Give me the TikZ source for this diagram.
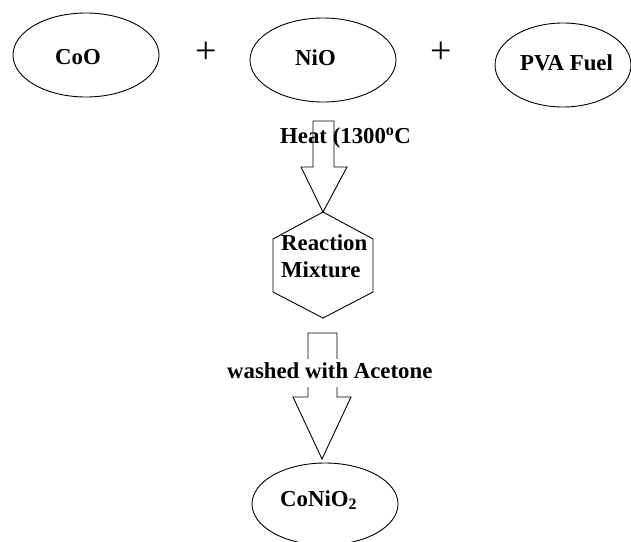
\documentclass[tikz,border=0pt]{standalone}
\usepackage{fontspec}
\setmainfont{Liberation Serif}
\usetikzlibrary{shapes.geometric}
\begin{document}
\begin{tikzpicture}[x=1pt,y=-1pt,
  lbl/.style={font=\fontsize{22.8}{27}\selectfont\bfseries,inner sep=0pt,anchor=base west},
  oval/.style={draw,ellipse,line width=0.9pt,minimum width=146pt,minimum height=84pt,inner sep=0pt},
  plussign/.style={font=\fontsize{38}{38}\selectfont\mdseries,inner sep=0pt},
  blockarrow/.style={draw,line width=0.9pt,fill=white}]
\useasboundingbox[fill=white] (0,0) rectangle (631,541);
% reactant ovals
\node[oval] (coo) at (86,55) {};
\node[oval] (nio) at (323,60) {};
\node[oval,minimum width=136pt,minimum height=84pt] (pva) at (563,65) {};
\node[lbl] (coot) at (55,64) {CoO};
\node[lbl] (niot) at (295,65) {NiO};
\node[lbl] (pvat) at (520,70) {PVA Fuel};
\node[plussign] (p1) at (206,53) {+};
\node[plussign] (p2) at (441,53) {+};
% heat arrow
\coordinate (a1tip) at (323,212);
\draw[blockarrow] (313,121) -- (334,121) -- (334,167) -- (347,167) -- (a1tip) -- (301,167) -- (313,167) -- cycle;
\node[lbl] (heat) at (280,143) {Heat (1300\textsuperscript{o}C};
% hexagon
\coordinate (h1) at (323,212);
\coordinate (h2) at (373,239);
\coordinate (h3) at (373,292);
\coordinate (h4) at (323,318);
\coordinate (h5) at (273,292);
\coordinate (h6) at (273,239);
\draw[line width=0.9pt] (h1) -- (h2) -- (h3) -- (h4) -- (h5) -- (h6) -- cycle;
\node[lbl] (react1) at (281,250) {Reaction};
\node[lbl] (react2) at (281,277) {Mixture};
% wash arrow
\coordinate (a2tip) at (322,459);
\draw[blockarrow] (308,333) -- (337,333) -- (337,397) -- (351,397) -- (a2tip) -- (293,397) -- (308,397) -- cycle;
\node[lbl,fill=white,text height=19pt,text depth=9pt] (wash) at (227,378) {washed with Acetone};
% product
\node[oval,minimum height=82pt] (prod) at (325,504) {};
\node[lbl] (prodt) at (280,506) {CoNiO\textsubscript{2}};
\end{tikzpicture}
\end{document}
